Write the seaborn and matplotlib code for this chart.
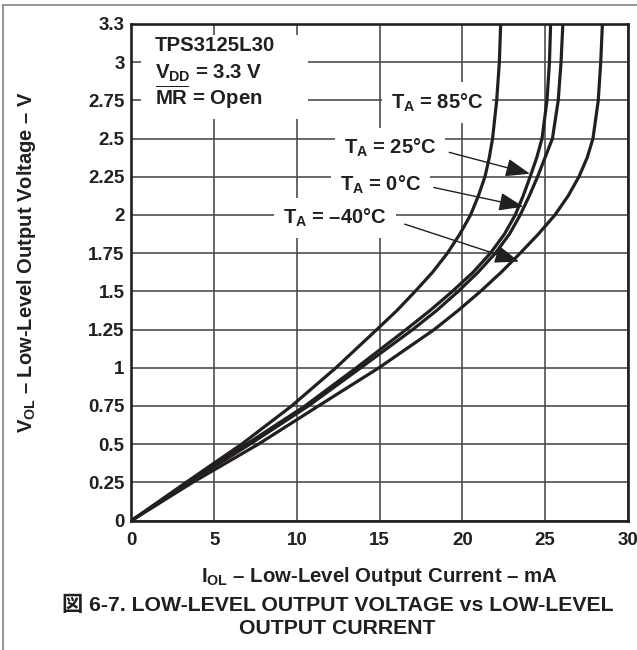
import matplotlib
matplotlib.use("Agg")
import numpy as np
import pandas as pd
import matplotlib.pyplot as plt
import seaborn as sns
from matplotlib.patches import Rectangle
from matplotlib.lines import Line2D

# ---------------- data ----------------
voltage_v = [0.0, 0.25, 0.5, 0.75, 1.0, 1.25, 1.375, 1.5, 1.625, 1.75, 1.875, 2.0,
             2.125, 2.25, 2.375, 2.5, 2.75, 3.0, 3.25]
current_85c = [0.0, 3.3, 6.66, 9.68, 12.36, 14.83, 16.05, 17.15, 18.2, 19.1, 19.85, 20.5,
               20.97, 21.37, 21.63, 21.83, 22.08, 22.24, 22.32]
current_25c = [0.0, 3.4, 6.96, 10.49, 13.6, 16.6, 18.05, 19.4, 20.65, 21.7, 22.55, 23.2,
               23.68, 24.1, 24.5, 24.82, 25.12, 25.27, 25.34]
current_0c = [0.0, 3.5, 7.16, 10.69, 13.86, 17.0, 18.45, 19.75, 20.95, 22.0, 22.85, 23.5,
              24.05, 24.55, 25.0, 25.45, 25.8, 25.97, 26.08]
current_m40c = [0.0, 3.7, 7.67, 11.3, 14.96, 18.3, 19.75, 21.1, 22.35, 23.5, 24.6, 25.6,
                26.4, 27.05, 27.55, 27.9, 28.22, 28.37, 28.47]
temperatures = ["85", "25", "0", "-40"]
temp_labels = [r"$T_A$ = 85°C", r"$T_A$ = 25°C", r"$T_A$ = 0°C", r"$T_A$ = –40°C"]
x_ticks = [0, 5, 10, 15, 20, 25, 30]
y_tick_values = [0, 0.25, 0.5, 0.75, 1.0, 1.25, 1.5, 1.75, 2.0, 2.25, 2.5, 2.75, 3.0, 3.25]
y_tick_labels = ["0", "0.25", "0.5", "0.75", "1", "1.25", "1.5", "1.75", "2", "2.25",
                 "2.5", "2.75", "3", "3.3"]

df = pd.concat([
    pd.DataFrame({"current": c, "voltage": voltage_v, "temp": t})
    for c, t in zip([current_85c, current_25c, current_0c, current_m40c], temperatures)
], ignore_index=True)

# ---------------- style ----------------
sns.set_style("white")
plt.rcParams["font.family"] = ["Liberation Sans", "Noto Sans CJK JP", "DejaVu Sans"]
plt.rcParams["font.weight"] = "bold"
plt.rcParams["mathtext.fontset"] = "custom"
plt.rcParams["mathtext.rm"] = "Liberation Sans:bold"
plt.rcParams["mathtext.it"] = "Liberation Sans:bold"
plt.rcParams["mathtext.bf"] = "Liberation Sans:bold"
plt.rcParams["axes.axisbelow"] = True

INK = "#231f20"
fig = plt.figure(figsize=(6.37, 6.5), dpi=100)
ax = fig.add_axes([0.2064, 0.1991, 0.7790, 0.7640])

sns.lineplot(data=df, x="current", y="voltage", hue="temp",
             palette={t: INK for t in temperatures}, sort=False, estimator=None,
             lw=2.3, legend=False, ax=ax)
for ln in ax.get_lines():
    ln.set_solid_joinstyle("round")
    ln.set_solid_capstyle("round")

ax.set_xlim(0, 30)
ax.set_ylim(0, 3.25)
ax.set_xticks(x_ticks)
ax.set_xticklabels([str(v) for v in x_ticks])
ax.set_yticks(y_tick_values)
ax.set_yticklabels(y_tick_labels)
ax.grid(True, color="#4f4f4f", lw=1.2)
ax.tick_params(axis="both", length=0, labelsize=13.5, colors=INK)
ax.tick_params(axis="x", pad=8)
ax.tick_params(axis="y", pad=5)
for s in ax.spines.values():
    s.set_visible(True)
    s.set_color(INK)
    s.set_linewidth(1.9)

ax.set_xlabel(r"$I_{OL}$ – Low-Level Output Current – mA", fontsize=14.7,
              fontweight="bold", color=INK, va="center")
ax.xaxis.set_label_coords(0.5, -0.1116)
ax.set_ylabel(r"$V_{OL}$ – Low-Level Output Voltage – V", fontsize=14.5,
              fontweight="bold", color=INK, va="center")
ax.yaxis.set_label_coords(-0.2106, 0.52)

# white area behind the condition text block
ax.add_patch(Rectangle((0.57, 2.63), 10.1, 0.55, facecolor="white", edgecolor="none", zorder=1))
ax.text(1.42, 3.11, "TPS3125L30", fontsize=14.7, fontweight="bold", color=INK,
        ha="left", va="center", zorder=3)
ax.text(1.42, 2.93, r"$V_{DD}$ = 3.3 V", fontsize=14.7, fontweight="bold", color=INK,
        ha="left", va="center", zorder=3)
ax.text(1.42, 2.77, r"$\overline{\mathrm{MR}}$ = Open", fontsize=14.7, fontweight="bold",
        color=INK, ha="left", va="center", zorder=3)

box = dict(boxstyle="square,pad=0.45", fc="white", ec="none")
label_pos = [(15.69, 2.735), (12.84, 2.44), (12.59, 2.196), (9.16, 1.98)]
for (lx, ly), lab in zip(label_pos, temp_labels):
    ax.text(lx, ly, lab, fontsize=14.5, fontweight="bold", color=INK,
            ha="left", va="center", bbox=box, zorder=3)

arrows = [((19.21, 2.41), (24.09, 2.27)),
          ((18.28, 2.18), (23.69, 2.054)),
          ((16.52, 1.94), (23.43, 1.695))]
for start, tip in arrows:
    ax.annotate("", xy=tip, xytext=start,
                arrowprops=dict(arrowstyle="-|>,head_length=0.75,head_width=0.28",
                                color=INK, lw=1.0, shrinkA=0, shrinkB=0,
                                mutation_scale=20), zorder=4)

fig.text(337.5 / 637, 1 - 605 / 650, "図 6-7. LOW-LEVEL OUTPUT VOLTAGE vs LOW-LEVEL",
         ha="center", va="center", fontsize=15.3, fontweight="bold", color=INK)
fig.text(337.5 / 637, 1 - 628 / 650, "OUTPUT CURRENT",
         ha="center", va="center", fontsize=15.3, fontweight="bold", color=INK)

# figure frame (top and left)
fig.add_artist(Line2D([3 / 637, 3 / 637], [0, 1 - 5 / 650], transform=fig.transFigure,
                      color="#808080", lw=1.2))
fig.add_artist(Line2D([3 / 637, 1], [1 - 5 / 650, 1 - 5 / 650], transform=fig.transFigure,
                      color="#808080", lw=1.2))

fig.savefig("out.png", dpi=100)
